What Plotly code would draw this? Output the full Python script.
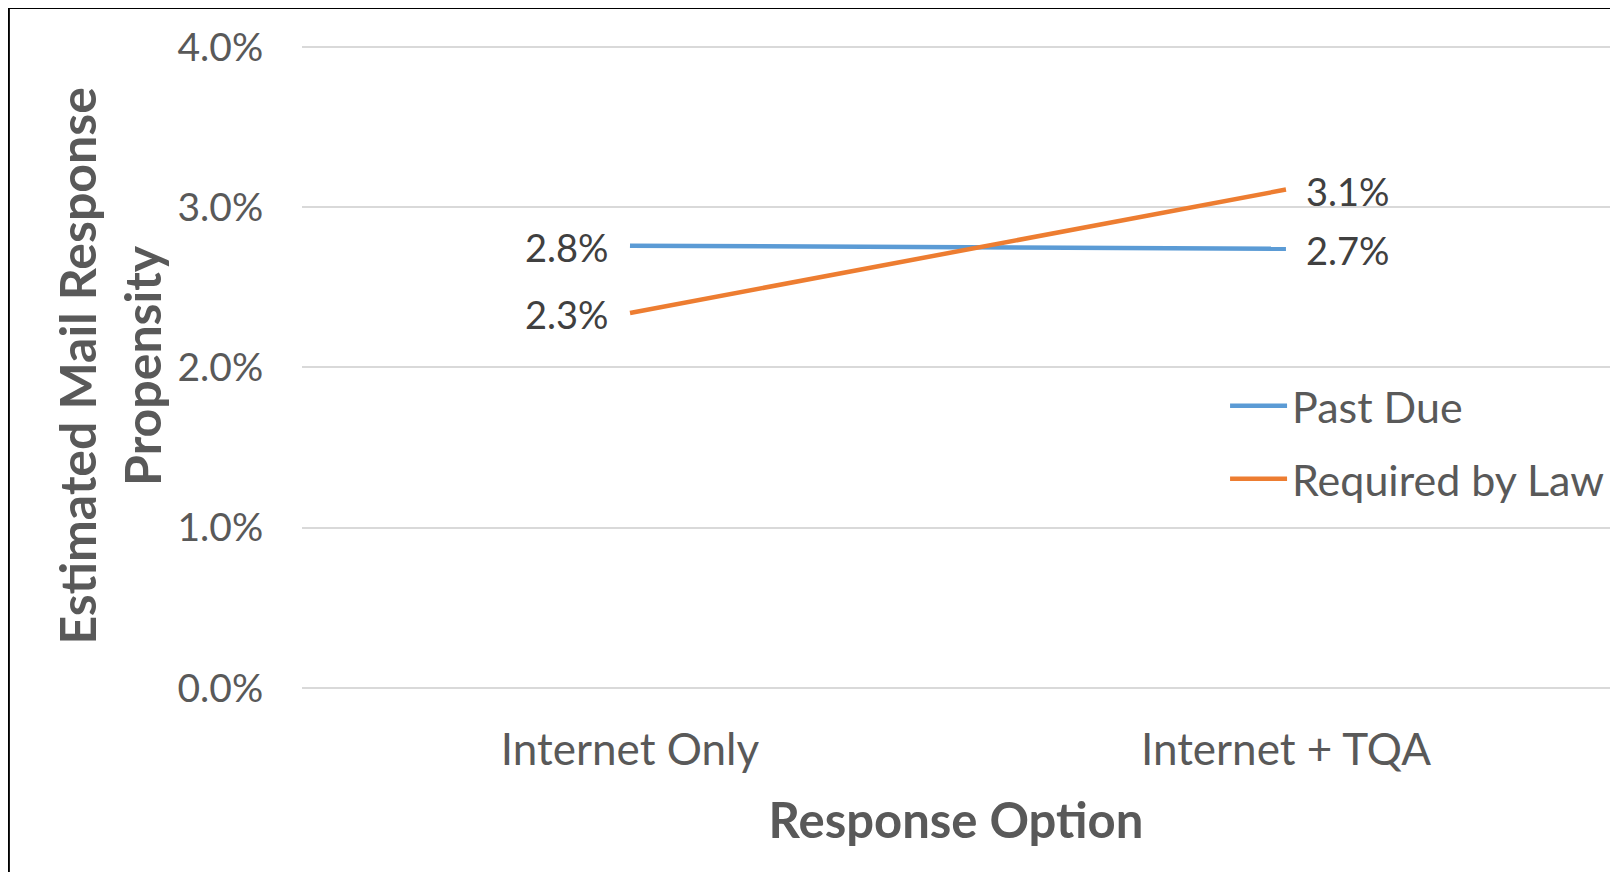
import plotly.graph_objects as go

categories = ["Internet Only", "Internet + TQA"]
past_due = [0.0276, 0.0274]
required_by_law = [0.0234, 0.0311]
series_names = ["Past Due", "Required by Law"]
series_colors = ["#5B9BD5", "#ED7D31"]
y_ticks = [0.0, 0.01, 0.02, 0.03, 0.04]

FONT = "Lato, Carlito, Calibri, Open Sans, sans-serif"
TXT = "#595959"
LBL = "#404040"

fig = go.Figure()
for name, vals, col in zip(series_names, [past_due, required_by_law], series_colors):
    fig.add_trace(go.Scatter(
        x=categories, y=vals, name=name, mode="lines", legendgroup=name,
        line=dict(color=col, width=4.5),
    ))
    # data labels: left of first point, right of last point
    for i, (c, v) in enumerate(zip(categories, vals)):
        fig.add_annotation(
            x=c, y=v, xref="x", yref="y", text=f"{v*100:.1f}%",
            showarrow=False, xanchor="right" if i == 0 else "left",
            xshift=-19 if i == 0 else 18, yshift=-1,
            font=dict(family=FONT, size=38, color=LBL),
        )

# Y axis title
fig.add_annotation(
    x=-0.1475, y=0.5, xref="paper", yref="paper",
    text="<b>Estimated Mail Response<br>Propensity</b>",
    textangle=-90, showarrow=False, xanchor="center", yanchor="middle",
    font=dict(family=FONT, size=50, color=TXT),
)

# outer border
fig.add_shape(type="rect", xref="paper", yref="paper",
              x0=-0.2241, x1=1.05, y0=-0.35, y1=1.0577,
              line=dict(color="black", width=2), fillcolor="rgba(0,0,0,0)", layer="above")

fig.update_layout(
    width=1602, height=864,
    margin=dict(l=294, r=0, t=37, b=184, autoexpand=False),
    paper_bgcolor="white", plot_bgcolor="white",
    font=dict(family=FONT, color=TXT),
    showlegend=True,
    legend=dict(
        x=0.7057, y=0.382, xanchor="left", yanchor="middle",
        font=dict(family=FONT, size=43, color=TXT),
        bgcolor="rgba(0,0,0,0)", tracegroupgap=14, itemwidth=57,
    ),
    xaxis=dict(
        type="category", range=[-0.5, 1.494],
        showgrid=False, showline=False, zeroline=False,
        tickfont=dict(family=FONT, size=44, color=TXT),
        ticks="outside", ticklen=23, tickcolor="rgba(0,0,0,0)",
        title=dict(text="<b>Response Option</b>", font=dict(family=FONT, size=49, color=TXT), standoff=30),
    ),
    yaxis=dict(
        range=[0, 0.04012], tickvals=y_ticks, tickformat=".1%",
        showgrid=True, gridcolor="#D9D9D9", gridwidth=1.5,
        zeroline=True, zerolinecolor="#D9D9D9", zerolinewidth=1.5,
        showline=False,
        tickfont=dict(family=FONT, size=39, color=TXT),
        ticks="outside", ticklen=30, tickcolor="rgba(0,0,0,0)",
    ),
)

fig.write_html("out.html")
